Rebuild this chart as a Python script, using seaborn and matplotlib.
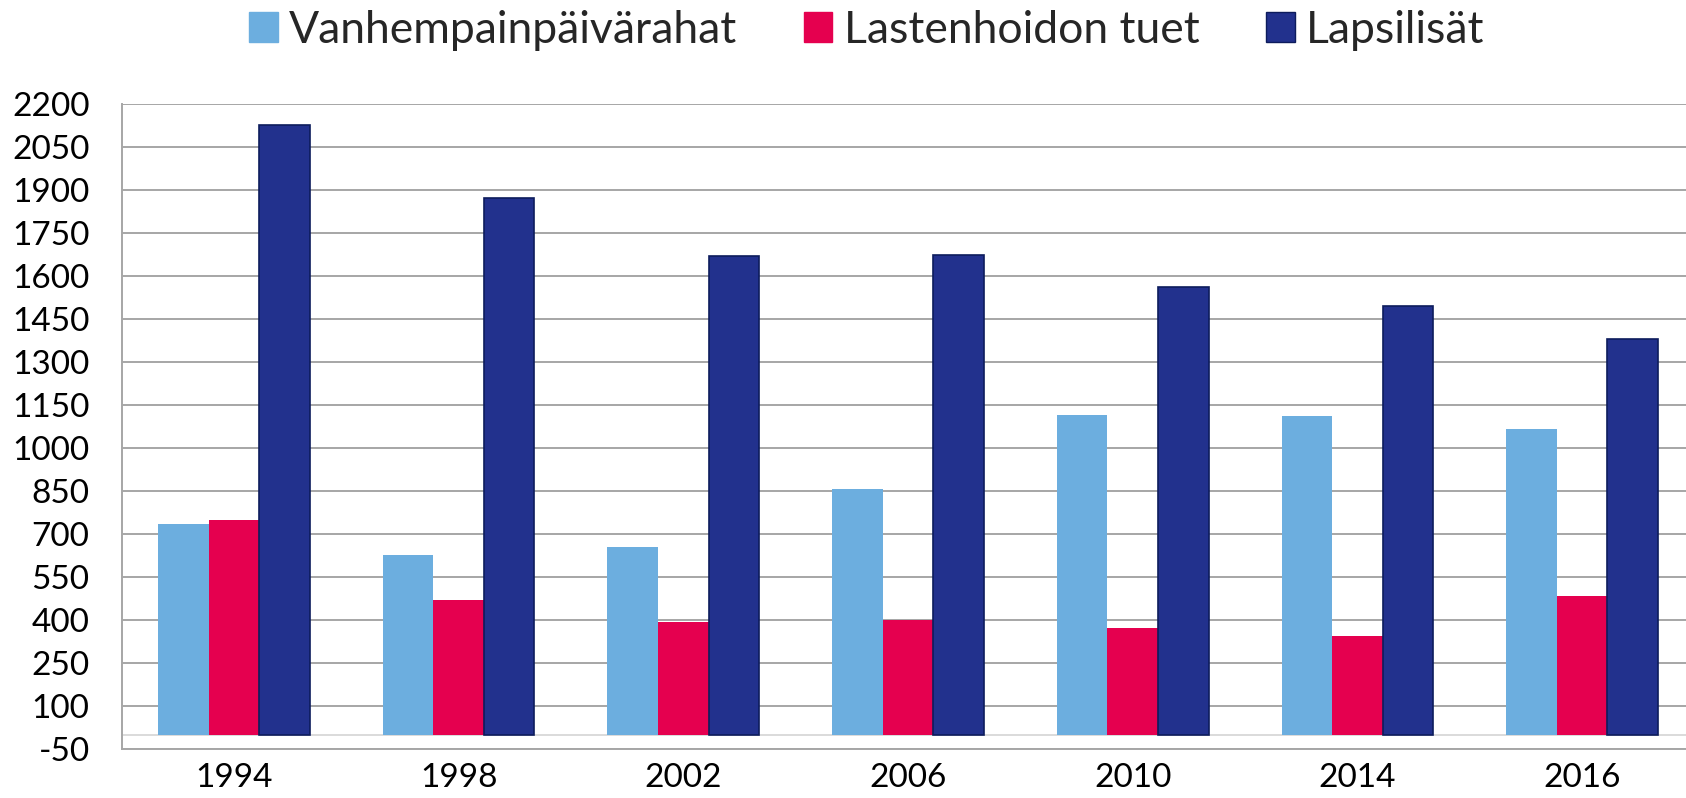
import numpy as np
import pandas as pd
import matplotlib
matplotlib.use("Agg")
import matplotlib.pyplot as plt
import seaborn as sns

years = ["1994", "1998", "2002", "2006", "2010", "2014", "2016"]
series = ["Vanhempainpäivärahat", "Lastenhoidon tuet", "Lapsilisät"]
vanhempain = [737, 629, 655, 857, 1116, 1112, 1067]
lastenhoito = [749, 471, 396, 400, 374, 347, 486]
lapsilisat = [2129, 1874, 1671, 1675, 1562, 1495, 1382]
yticks = list(range(-50, 2201, 150))

colors = ["#6CAEDF", "#E5004F", "#22318D"]

df = pd.DataFrame({
    "year": years * 3,
    "series": np.repeat(series, len(years)),
    "value": vanhempain + lastenhoito + lapsilisat,
})

sns.set_style("white")
plt.rcParams["font.family"] = ["Lato", "DejaVu Sans"]

fig = plt.figure(figsize=(16.86, 7.98), dpi=100)
ax = fig.add_axes([0.0721, 0.0608, 0.9329, 0.8085])

sns.barplot(data=df, x="year", y="value", hue="series", hue_order=series,
            palette=colors, saturation=1, width=0.675, gap=0,
            linewidth=0, ax=ax, legend=False)

# dark bars have a thin darker outline
for p in ax.containers[2]:
    p.set_edgecolor("#0d1c5c")
    p.set_linewidth(1.2)

ax.set_ylim(-50, 2200)
ax.set_xlim(-0.5, 6.5)
ax.set_yticks(yticks)
ax.set_yticklabels([str(v) for v in yticks])
ax.yaxis.grid(True, color="#a6a6a6", lw=1.4)
ax.set_axisbelow(True)
ax.axhline(0, color="#d4d4d4", lw=1.2, zorder=0.5)

for s in ["top", "right"]:
    ax.spines[s].set_visible(False)
ax.spines["left"].set_color("#a6a6a6")
ax.spines["left"].set_linewidth(1.4)
ax.spines["bottom"].set_color("#a6a6a6")
ax.spines["bottom"].set_linewidth(1.4)

ax.tick_params(axis="y", length=9, width=1.4, color="#a6a6a6", pad=14,
               labelsize=24, labelcolor="black")
ax.tick_params(axis="x", which="major", length=0, pad=10, labelsize=24,
               labelcolor="black")
ax.set_xticks(np.arange(-0.5, 7, 1), minor=True)
ax.tick_params(axis="x", which="minor", direction="in", length=10,
               width=1.4, color="#a6a6a6")
ax.set_xlabel("")
ax.set_ylabel("")

handles = [plt.Rectangle((0, 0), 1, 1, facecolor=c, edgecolor=c if i < 2 else "#0d1c5c")
           for i, c in enumerate(colors)]
fig.legend(handles, series, loc="center", bbox_to_anchor=(0.514, 0.962),
           ncol=3, frameon=False, fontsize=32, handlelength=0.65,
           handleheight=0.65, handletextpad=0.25, columnspacing=1.5)

fig.savefig("out.png", dpi=100)
